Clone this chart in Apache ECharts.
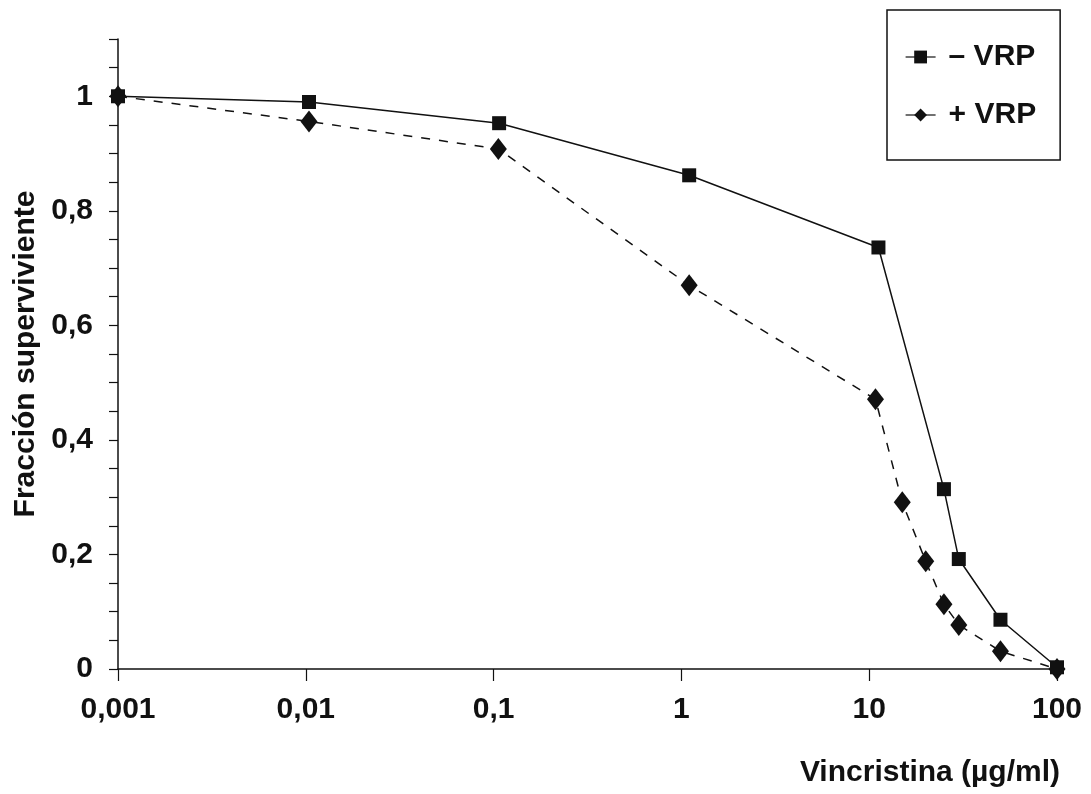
<!DOCTYPE html>
<html>
<head>
<meta charset="utf-8">
<script src="https://cdn.jsdelivr.net/npm/echarts@6/dist/echarts.min.js"></script>
<style>
  html, body { margin: 0; padding: 0; background: #fff; }
  #chart { width: 1091px; height: 794px; }
</style>
</head>
<body>
<div id="chart"></div>
<script>
// values
const seriesNames = ['– VRP', '+ VRP']
const xMinusVRP = [0.001, 0.0104, 0.107, 1.1, 11.2, 25, 30, 50, 100]
const yMinusVRP = [1.0, 0.99, 0.953, 0.862, 0.736, 0.314, 0.192, 0.086, 0.003]
const xPlusVRP = [0.001, 0.0104, 0.106, 1.1, 10.8, 15, 20, 25, 30, 50, 100]
const yPlusVRP = [1.0, 0.956, 0.908, 0.67, 0.471, 0.291, 0.188, 0.113, 0.077, 0.031, 0.0]

const xTickValues = [0.001, 0.01, 0.1, 1, 10, 100]
const xTickLabels = ['0,001', '0,01', '0,1', '1', '10', '100']
const yTickValues = [0, 0.2, 0.4, 0.6, 0.8, 1]
const yTickLabels = ['0', '0,2', '0,4', '0,6', '0,8', '1']

const font = 'Liberation Sans, Arial, Helvetica, sans-serif'
const ink = '#111'

function pairs (xs, ys) {
  return xs.map((x, i) => [x, ys[i]])
}

function xLabel (v) {
  const i = xTickValues.findIndex(t => Math.abs(Math.log10(v) - Math.log10(t)) < 1e-6)
  return i >= 0 ? xTickLabels[i] : ''
}

function yLabel (v) {
  const i = yTickValues.findIndex(t => Math.abs(v - t) < 1e-6)
  return i >= 0 ? yTickLabels[i] : ''
}

const chart = echarts.init(document.getElementById('chart'))

const labelText = { fontFamily: font, fontSize: 30, fontWeight: 'bold', color: ink }

chart.setOption({
  animation: false,
  backgroundColor: '#fff',
  textStyle: { fontFamily: font, color: ink },
  grid: {
    left: 118,
    right: 34,
    top: 39,
    bottom: 125
  },
  legend: {
    data: seriesNames,
    orient: 'vertical',
    left: 887,
    top: 10,
    padding: [32, 24, 30, 18],
    itemGap: 28,
    itemWidth: 30,
    itemHeight: 16,
    borderColor: ink,
    borderWidth: 1.5,
    lineStyle: { type: 'solid', width: 1.2 },
    textStyle: Object.assign({}, labelText, { lineHeight: 24, padding: [0, 0, 0, 8] })
  },
  xAxis: {
    type: 'log',
    logBase: 10,
    min: 0.001,
    max: 100,
    splitNumber: 5,
    name: 'Vincristina (µg/ml)',
    nameLocation: 'end',
    nameGap: 3,
    nameTextStyle: Object.assign({}, labelText, {
      align: 'right',
      verticalAlign: 'top',
      padding: [89, 0, 0, 0]
    }),
    axisLine: { lineStyle: { color: ink, width: 1.5 } },
    axisTick: { length: 12, lineStyle: { color: ink, width: 1.2 } },
    axisLabel: Object.assign({}, labelText, { margin: 26, formatter: xLabel }),
    splitLine: { show: false }
  },
  yAxis: {
    type: 'value',
    min: 0,
    max: 1.1,
    interval: 0.05,
    name: 'Fracción superviviente',
    nameLocation: 'middle',
    nameGap: 76,
    nameTextStyle: labelText,
    axisLine: { show: true, lineStyle: { color: ink, width: 1.5 } },
    axisTick: { show: true, length: 9, lineStyle: { color: ink, width: 1.2 } },
    axisLabel: Object.assign({}, labelText, { margin: 25, formatter: yLabel }),
    splitLine: { show: false }
  },
  series: [
    {
      name: seriesNames[0],
      type: 'line',
      data: pairs(xMinusVRP, yMinusVRP),
      symbol: 'rect',
      symbolSize: 14,
      itemStyle: { color: ink },
      lineStyle: { color: ink, width: 1.5, type: 'solid' },
      z: 3
    },
    {
      name: seriesNames[1],
      type: 'line',
      data: pairs(xPlusVRP, yPlusVRP),
      symbol: 'diamond',
      symbolSize: [17, 22],
      itemStyle: { color: ink },
      lineStyle: { color: ink, width: 1.5, type: [9, 9] },
      z: 2
    }
  ]
})
</script>
</body>
</html>
